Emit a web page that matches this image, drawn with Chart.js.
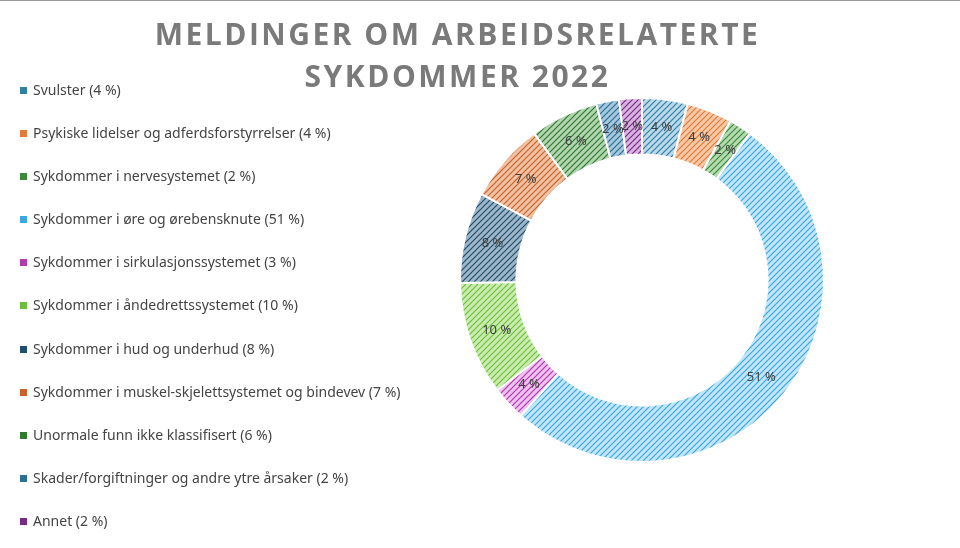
<!DOCTYPE html>
<html><head><meta charset="utf-8">
<script src="https://cdn.jsdelivr.net/npm/chart.js@4/dist/chart.umd.min.js"></script>
<style>
body{margin:0;background:#fff;font-family:"Noto Sans",Arial,sans-serif}
#wrap{position:relative;width:960px;height:548px;overflow:hidden}
#title{position:absolute;left:0;width:915px;top:13px;text-align:center;font:bold 30px "Open Sans","DejaVu Sans",sans-serif;letter-spacing:2.5px;color:#7a7a7a;line-height:42px}
#legend{position:absolute;left:20px;top:80px;font-size:14px;color:#444}
#legend div{height:43.1px;line-height:20px}
#legend span{display:inline-block;width:7px;height:7px;margin-right:6px;vertical-align:1px}
#top{position:absolute;left:0;right:0;top:0;border-top:1px solid #999}
</style></head><body>
<div id="wrap">
<div id="top"></div>
<canvas id="c" width="960" height="548"></canvas>
<div id="title">MELDINGER OM ARBEIDSRELATERTE<br>SYKDOMMER 2022</div>
<div id="legend"></div>
</div>
<script>
const labels = ["Svulster (4 %)","Psykiske lidelser og adferdsforstyrrelser (4 %)","Sykdommer i nervesystemet (2 %)","Sykdommer i øre og ørebensknute (51 %)","Sykdommer i sirkulasjonssystemet (3 %)","Sykdommer i åndedrettssystemet (10 %)","Sykdommer i hud og underhud (8 %)","Sykdommer i muskel-skjelettsystemet og bindevev (7 %)","Unormale funn ikke klassifisert (6 %)","Skader/forgiftninger og andre ytre årsaker (2 %)","Annet (2 %)"];
const values = [4,4,2,51,3,10,8,7,6,2,2];
const valueLabels = ["4 %","4 %","2 %","51 %","4 %","10 %","8 %","7 %","6 %","2 %","2 %"];
const lineColors = ["#2f7fa6","#e07b39","#3a8a3a","#3aa7e0","#b03ab0","#6cbf3a","#1f4e6e","#c8622a","#2e7a2e","#2a6f96","#7a2a86"];
const fillColors = ["#bcd9ea","#f6c9a6","#b6dbb1","#c2e6f8","#efc2ef","#cbecb1","#9fb6c8","#f0c1a2","#b2d4b0","#a6c7dc","#d7b3df"];

function hatch(bg, fg){
  const c=document.createElement('canvas');c.width=6;c.height=6;
  const x=c.getContext('2d');x.fillStyle=bg;x.fillRect(0,0,6,6);
  x.strokeStyle=fg;x.lineWidth=1.2;
  x.beginPath();x.moveTo(0,6);x.lineTo(6,0);x.moveTo(-3,3);x.lineTo(3,-3);x.moveTo(3,9);x.lineTo(9,3);x.stroke();
  return x.createPattern(c,'repeat');
}
const ctx=document.getElementById('c').getContext('2d');

const lg=document.getElementById('legend');
labels.forEach((l,i)=>{lg.innerHTML+=`<div><span style="background:${lineColors[i]}"></span>${l}</div>`;});

const sliceLabels={id:'sliceLabels',afterDatasetsDraw(chart){
  const c=chart.ctx;c.save();c.font='13px "Noto Sans"';c.fillStyle='#404040';c.textAlign='center';c.textBaseline='middle';
  chart.getDatasetMeta(0).data.forEach((a,i)=>{const p=a.tooltipPosition();c.fillText(valueLabels[i],p.x,p.y);});
  c.restore();}};

new Chart(ctx,{type:'doughnut',
  data:{labels,datasets:[{data:values,backgroundColor:values.map((v,i)=>hatch(fillColors[i],lineColors[i])),borderColor:'#fff',borderWidth:2}]},
  options:{responsive:false,animation:false,cutout:'69%',
    layout:{padding:{left:456,right:132,top:97,bottom:85}},
    plugins:{legend:{display:false},tooltip:{enabled:false}}},
  plugins:[sliceLabels]});
</script>
</body></html>
